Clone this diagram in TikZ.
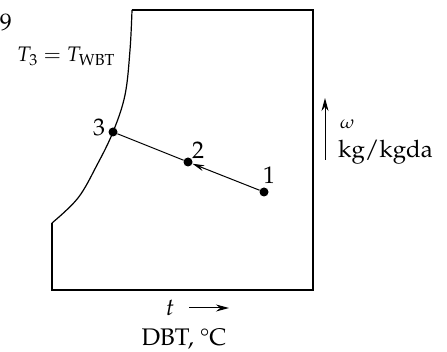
\documentclass[tikz,border=0pt]{standalone}
\usepackage[T1]{fontenc}
\usepackage{mathpazo}
\usetikzlibrary{arrows.meta}
\tikzset{
  lbl/.style={font=\fontsize{24}{28}\selectfont, inner sep=0pt},
  dotnode/.style={circle, fill=black, inner sep=0pt, minimum size=9pt},
  thin line/.style={line width=1.2pt},
  tipA/.style={-{Stealth[length=13pt,width=7pt]}},
}
\begin{document}
\begin{tikzpicture}[x=1pt,y=-1pt]
\useasboundingbox (0,0) rectangle (447,352);
% frame
\draw[thin line, line join=miter] (52,223) -- (52,290) -- (313,290) -- (313,10) -- (132,10);
% curve
\draw[thin line] plot[smooth, tension=0.6] coordinates {(132,10) (130,50) (125,95) (113,132) (97,165) (78,198) (52,223)};
% points
\node[dotnode] (p3) at (113,132) {};
\node[dotnode] (p2) at (188,162) {};
\node[dotnode] (p1) at (264,192) {};
\draw[line width=1pt] (p3) -- (p2);
\draw[line width=1pt, -{Stealth[length=12pt,width=6pt]}] (p1) -- (p2);
\node[lbl] (l3) at (99,127) {3};
\node[lbl] (l2) at (198,150) {2};
\node[lbl] (l1) at (269,175) {1};
% labels
\node[lbl, anchor=east] (fig) at (12,22) {9};
\node[lbl, font=\fontsize{21}{25}\selectfont, anchor=base west] (twbt) at (17,62) {$T_3 = T_{\mathrm{WBT}}$};
% vertical arrow
\coordinate (va) at (325,160);
\coordinate (vb) at (325,98);
\draw[line width=1pt, tipA] (va) -- (vb);
\node[lbl, anchor=west] (om) at (340,124) {$\scriptstyle\omega$};
\node[lbl, anchor=base west] (kg) at (338,158) {kg/kgda};
% horizontal arrow
\node[lbl] (tl) at (170,308) {$t$};
\coordinate (ha) at (189,308);
\coordinate (hb) at (229,308);
\draw[line width=1pt, tipA] (ha) -- (hb);
\node[lbl, anchor=base] (dbt) at (184,346) {DBT, \textdegree C};
\end{tikzpicture}
\end{document}
